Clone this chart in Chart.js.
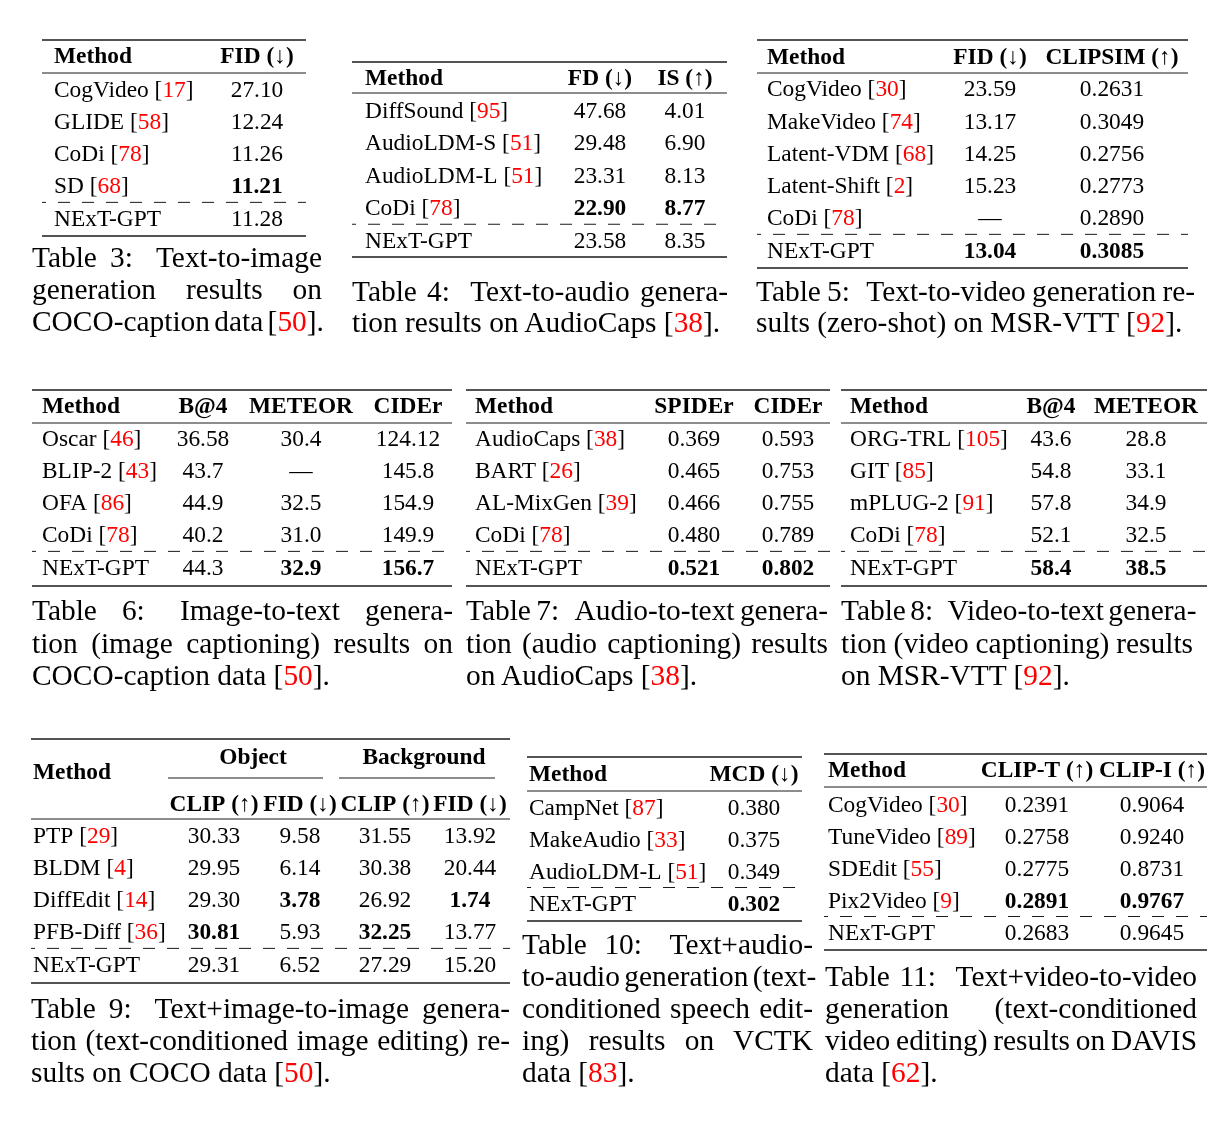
<!DOCTYPE html>
<html><head><meta charset="utf-8">
<script src="https://cdn.jsdelivr.net/npm/chart.js@4.4.1/dist/chart.umd.min.js"></script>
<style>
html,body{margin:0;padding:0;background:#fff;}
#page{position:relative;width:1227px;height:1139px;overflow:hidden;background:#fff;}
#page canvas{position:absolute;left:0;top:0;pointer-events:none;}
.cap{position:absolute;font-family:"Liberation Serif","Times New Roman",serif;font-size:29.4px;line-height:32px;white-space:nowrap;color:#000;}
.cap.j{text-align:justify;text-align-last:justify;word-spacing:-3px;}
.ref{color:#f00;}
.gap{display:inline-block;width:10px;}
</style></head><body><div id="page"></div>
<script>
// ================= DATA =================
// Table 3: Text-to-image
const t3Methods = ["CogVideo", "GLIDE", "CoDi", "SD", "NExT-GPT"];
const t3Refs    = ["17", "58", "78", "68", ""];
const t3Headers = ["FID (↓)"];
const t3FID     = ["27.10", "12.24", "11.26", "11.21", "11.28"];
const t3FIDBest = [3];

// Table 4: Text-to-audio
const t4Methods = ["DiffSound", "AudioLDM-S", "AudioLDM-L", "CoDi", "NExT-GPT"];
const t4Refs    = ["95", "51", "51", "78", ""];
const t4Headers = ["FD (↓)", "IS (↑)"];
const t4FD      = ["47.68", "29.48", "23.31", "22.90", "23.58"];
const t4FDBest  = [3];
const t4IS      = ["4.01", "6.90", "8.13", "8.77", "8.35"];
const t4ISBest  = [3];

// Table 5: Text-to-video
const t5Methods = ["CogVideo", "MakeVideo", "Latent-VDM", "Latent-Shift", "CoDi", "NExT-GPT"];
const t5Refs    = ["30", "74", "68", "2", "78", ""];
const t5Headers = ["FID (↓)", "CLIPSIM (↑)"];
const t5FID     = ["23.59", "13.17", "14.25", "15.23", "—", "13.04"];
const t5FIDBest = [5];
const t5CLIPSIM = ["0.2631", "0.3049", "0.2756", "0.2773", "0.2890", "0.3085"];
const t5CLIPSIMBest = [5];

// Table 6: Image-to-text
const t6Methods = ["Oscar", "BLIP-2", "OFA", "CoDi", "NExT-GPT"];
const t6Refs    = ["46", "43", "86", "78", ""];
const t6Headers = ["B@4", "METEOR", "CIDEr"];
const t6B4      = ["36.58", "43.7", "44.9", "40.2", "44.3"];
const t6B4Best  = [];
const t6METEOR  = ["30.4", "—", "32.5", "31.0", "32.9"];
const t6METEORBest = [4];
const t6CIDEr   = ["124.12", "145.8", "154.9", "149.9", "156.7"];
const t6CIDErBest = [4];

// Table 7: Audio-to-text
const t7Methods = ["AudioCaps", "BART", "AL-MixGen", "CoDi", "NExT-GPT"];
const t7Refs    = ["38", "26", "39", "78", ""];
const t7Headers = ["SPIDEr", "CIDEr"];
const t7SPIDEr  = ["0.369", "0.465", "0.466", "0.480", "0.521"];
const t7SPIDErBest = [4];
const t7CIDEr   = ["0.593", "0.753", "0.755", "0.789", "0.802"];
const t7CIDErBest = [4];

// Table 8: Video-to-text
const t8Methods = ["ORG-TRL", "GIT", "mPLUG-2", "CoDi", "NExT-GPT"];
const t8Refs    = ["105", "85", "91", "78", ""];
const t8Headers = ["B@4", "METEOR"];
const t8B4      = ["43.6", "54.8", "57.8", "52.1", "58.4"];
const t8B4Best  = [4];
const t8METEOR  = ["28.8", "33.1", "34.9", "32.5", "38.5"];
const t8METEORBest = [4];

// Table 9: Text+image-to-image
const t9Methods = ["PTP", "BLDM", "DiffEdit", "PFB-Diff", "NExT-GPT"];
const t9Refs    = ["29", "4", "14", "36", ""];
const t9Groups  = ["Object", "Background"];
const t9Headers = ["CLIP (↑)", "FID (↓)", "CLIP (↑)", "FID (↓)"];
const t9ObjCLIP = ["30.33", "29.95", "29.30", "30.81", "29.31"];
const t9ObjCLIPBest = [3];
const t9ObjFID  = ["9.58", "6.14", "3.78", "5.93", "6.52"];
const t9ObjFIDBest = [2];
const t9BgCLIP  = ["31.55", "30.38", "26.92", "32.25", "27.29"];
const t9BgCLIPBest = [3];
const t9BgFID   = ["13.92", "20.44", "1.74", "13.77", "15.20"];
const t9BgFIDBest = [2];

// Table 10: Text+audio-to-audio
const t10Methods = ["CampNet", "MakeAudio", "AudioLDM-L", "NExT-GPT"];
const t10Refs    = ["87", "33", "51", ""];
const t10Headers = ["MCD (↓)"];
const t10MCD     = ["0.380", "0.375", "0.349", "0.302"];
const t10MCDBest = [3];

// Table 11: Text+video-to-video
const t11Methods = ["CogVideo", "TuneVideo", "SDEdit", "Pix2Video", "NExT-GPT"];
const t11Refs    = ["30", "89", "55", "9", ""];
const t11Headers = ["CLIP-T (↑)", "CLIP-I (↑)"];
const t11CLIPT   = ["0.2391", "0.2758", "0.2775", "0.2891", "0.2683"];
const t11CLIPTBest = [3];
const t11CLIPI   = ["0.9064", "0.9240", "0.8731", "0.9767", "0.9645"];
const t11CLIPIBest = [3];

// Captions ({..} = red reference, "^" = wide gap after the label)
const cap3  = ["Table 3:^Text-to-image", "generation results on", "COCO-caption data [{50}]."];
const cap4  = ["Table 4:^Text-to-audio genera-", "tion results on AudioCaps [{38}]."];
const cap5  = ["Table 5:^Text-to-video generation re-", "sults (zero-shot) on MSR-VTT [{92}]."];
const cap6  = ["Table 6:^Image-to-text genera-", "tion (image captioning) results on", "COCO-caption data [{50}]."];
const cap7  = ["Table 7:^Audio-to-text genera-", "tion (audio captioning) results", "on AudioCaps [{38}]."];
const cap8  = ["Table 8:^Video-to-text genera-", "tion (video captioning) results", "on MSR-VTT [{92}]."];
const cap9  = ["Table 9:^Text+image-to-image genera-", "tion (text-conditioned image editing) re-", "sults on COCO data [{50}]."];
const cap10 = ["Table 10:^Text+audio-", "to-audio generation (text-", "conditioned speech edit-", "ing) results on VCTK", "data [{83}]."];
const cap11 = ["Table 11:^Text+video-to-video", "generation (text-conditioned", "video editing) results on DAVIS", "data [{62}]."];

// ================= LAYOUT =================
const W = 1227, H = 1139;
const FONT = '"Liberation Serif","Times New Roman",serif';
const FS = 23.4;
const BASE = 7.7;
const page = document.getElementById('page');

function col(header, values, best, x) { return {header, values, best, x}; }

const tables = [
  {methods: t3Methods, refs: t3Refs, methodX: 54, ruleX: [42, 306], top: 40, mid: 73, bottom: 236, headerY: 55,
   firstRow: 89, lastRow: 218,
   columns: [col(t3Headers[0], t3FID, t3FIDBest, 257)]},
  {methods: t4Methods, refs: t4Refs, methodX: 365, ruleX: [352, 727], top: 62, mid: 93, bottom: 257, headerY: 77,
   firstRow: 110, lastRow: 240,
   columns: [col(t4Headers[0], t4FD, t4FDBest, 600), col(t4Headers[1], t4IS, t4ISBest, 685)]},
  {methods: t5Methods, refs: t5Refs, methodX: 767, ruleX: [757, 1188], top: 40, mid: 73, bottom: 268, headerY: 56,
   firstRow: 88.5, lastRow: 250,
   columns: [col(t5Headers[0], t5FID, t5FIDBest, 990), col(t5Headers[1], t5CLIPSIM, t5CLIPSIMBest, 1112)]},
  {methods: t6Methods, refs: t6Refs, methodX: 42, ruleX: [32, 452], top: 390, mid: 423, bottom: 586, headerY: 405,
   firstRow: 438, lastRow: 567,
   columns: [col(t6Headers[0], t6B4, t6B4Best, 203), col(t6Headers[1], t6METEOR, t6METEORBest, 301), col(t6Headers[2], t6CIDEr, t6CIDErBest, 408)]},
  {methods: t7Methods, refs: t7Refs, methodX: 475, ruleX: [466, 830], top: 390, mid: 423, bottom: 586, headerY: 405,
   firstRow: 438, lastRow: 567,
   columns: [col(t7Headers[0], t7SPIDEr, t7SPIDErBest, 694), col(t7Headers[1], t7CIDEr, t7CIDErBest, 788)]},
  {methods: t8Methods, refs: t8Refs, methodX: 850, ruleX: [841, 1207], top: 390, mid: 423, bottom: 586, headerY: 405,
   firstRow: 438, lastRow: 567,
   columns: [col(t8Headers[0], t8B4, t8B4Best, 1051), col(t8Headers[1], t8METEOR, t8METEORBest, 1146)]},
  {methods: t9Methods, refs: t9Refs, methodX: 33, ruleX: [31, 510], top: 739, mid: 819, bottom: 983, headerY: 803,
   methodHeaderY: 771, firstRow: 835, lastRow: 964,
   groups: [{t: t9Groups[0], x: 253, y: 756, r: [168, 323], ry: 778}, {t: t9Groups[1], x: 424, y: 756, r: [339, 495], ry: 778}],
   columns: [col(t9Headers[0], t9ObjCLIP, t9ObjCLIPBest, 214), col(t9Headers[1], t9ObjFID, t9ObjFIDBest, 300),
             col(t9Headers[2], t9BgCLIP, t9BgCLIPBest, 385), col(t9Headers[3], t9BgFID, t9BgFIDBest, 470)]},
  {methods: t10Methods, refs: t10Refs, methodX: 529, ruleX: [527, 802], top: 757, mid: 791, bottom: 921, headerY: 773,
   firstRow: 807, lastRow: 903,
   columns: [col(t10Headers[0], t10MCD, t10MCDBest, 754)]},
  {methods: t11Methods, refs: t11Refs, methodX: 828, ruleX: [824, 1207], top: 754, mid: 787, bottom: 950, headerY: 769,
   firstRow: 804, lastRow: 932,
   columns: [col(t11Headers[0], t11CLIPT, t11CLIPTBest, 1037), col(t11Headers[1], t11CLIPI, t11CLIPIBest, 1152)]}
];

const captions = [
  {lines: cap3, x0: 32, x1: 322, y: [257, 289, 321], lastFull: true},
  {lines: cap4, x0: 352, x1: 728, y: [291, 322]},
  {lines: cap5, x0: 756, x1: 1195, y: [291, 322]},
  {lines: cap6, x0: 32, x1: 453, y: [610, 642.5, 675]},
  {lines: cap7, x0: 466, x1: 828, y: [610, 642.5, 675]},
  {lines: cap8, x0: 841, x1: 1193, y: [610, 642.5, 675]},
  {lines: cap9, x0: 31, x1: 510, y: [1008, 1040, 1072]},
  {lines: cap10, x0: 522, x1: 813, y: [944, 976, 1008, 1040, 1072]},
  {lines: cap11, x0: 825, x1: 1197, y: [976, 1008, 1040, 1072]}
];

// ================= DRAWING =================
function fontOf(s) { return (s.bold ? 'bold ' : '') + FS + 'px ' + FONT; }
function drawSegs(ctx, segs, x, y, align) {
  const widths = segs.map(s => { ctx.font = fontOf(s); return ctx.measureText(s.t).width; });
  const total = widths.reduce((a, b) => a + b, 0);
  let sx = align === 'center' ? x - total / 2 : x;
  ctx.textAlign = 'left';
  ctx.textBaseline = 'alphabetic';
  segs.forEach((s, i) => {
    ctx.font = fontOf(s);
    ctx.fillStyle = s.red ? '#f00' : '#000';
    ctx.fillText(s.t, sx, y);
    sx += widths[i];
  });
}
function headerSegs(str) {
  const out = [];
  str.split(/([↑↓])/).forEach(p => { if (p) out.push({t: p, bold: !/[↑↓]/.test(p)}); });
  return out;
}
function methodSegs(name, ref) {
  if (!ref) return [{t: name}];
  return [{t: name + ' ['}, {t: ref, red: true}, {t: ']'}];
}
function hline(ctx, x0, x1, y, lw, dash) {
  ctx.beginPath();
  ctx.lineWidth = lw;
  ctx.strokeStyle = '#1a1a1a';
  if (dash) { ctx.setLineDash([12, 12]); ctx.lineDashOffset = 8; } else ctx.setLineDash([]);
  ctx.moveTo(x0, y); ctx.lineTo(x1, y); ctx.stroke();
  ctx.setLineDash([]);
}

function drawTable(chart, spec) {
  const ctx = chart.ctx, xs = chart.scales.x, ys = chart.scales.y;
  const n = spec.methods.length;
  const X = v => xs.getPixelForValue(v);
  const rowY = i => ys.getPixelForValue(i);
  ctx.save();
  const x0 = X(spec.ruleX[0]), x1 = X(spec.ruleX[1]);
  hline(ctx, x0, x1, spec.top, 1.4);
  hline(ctx, x0, x1, spec.mid, 1.0);
  hline(ctx, x0, x1, spec.bottom, 1.4);
  hline(ctx, x0, x1, (rowY(n - 2) + rowY(n - 1)) / 2 + 0.5, 1.0, true);
  // headers
  drawSegs(ctx, [{t: 'Method', bold: true}], X(spec.methodX), (spec.methodHeaderY || spec.headerY) + BASE, 'left');
  (spec.groups || []).forEach(g => {
    drawSegs(ctx, [{t: g.t, bold: true}], X(g.x), g.y + BASE, 'center');
    hline(ctx, X(g.r[0]), X(g.r[1]), g.ry, 1.0);
  });
  spec.columns.forEach(c => drawSegs(ctx, headerSegs(c.header), X(c.x), spec.headerY + BASE, 'center'));
  // method names on the category scale
  spec.methods.forEach((m, i) => drawSegs(ctx, methodSegs(m, spec.refs[i]), X(spec.methodX), rowY(i) + BASE, 'left'));
  // values at the dataset points
  spec.columns.forEach((c, ci) => {
    const meta = chart.getDatasetMeta(ci);
    meta.data.forEach((el, i) => {
      drawSegs(ctx, [{t: c.values[i], bold: c.best.includes(i)}], el.x, el.y + BASE, 'center');
    });
  });
  ctx.restore();
}

function buildTable(spec) {
  const cv = document.createElement('canvas');
  cv.width = W; cv.height = H;
  cv.style.width = W + 'px'; cv.style.height = H + 'px';
  page.appendChild(cv);
  const n = spec.methods.length;
  const pitch = (spec.lastRow - spec.firstRow) / (n - 1);
  const padTop = spec.firstRow - pitch / 2;
  const padBottom = H - spec.lastRow - pitch / 2;
  const datasets = spec.columns.map(c => ({
    label: c.header,
    data: c.values.map((v, i) => ({x: c.x, y: spec.methods[i]})),
    pointRadius: 0, pointHoverRadius: 0, showLine: false
  }));
  new Chart(cv, {
    type: 'scatter',
    data: {datasets},
    options: {
      responsive: false, animation: false, events: [], devicePixelRatio: 1,
      layout: {padding: {top: padTop, bottom: padBottom, left: 0, right: 0}},
      plugins: {legend: {display: false}, tooltip: {enabled: false}},
      scales: {
        x: {type: 'linear', min: 0, max: W, display: false},
        y: {type: 'category', labels: spec.methods, offset: true, display: false}
      }
    },
    plugins: [{id: 'tableText', afterDatasetsDraw(chart) { drawTable(chart, spec); }}]
  });
}

function esc(s) { return s.replace(/&/g, '&amp;').replace(/</g, '&lt;'); }
function buildCaption(c) {
  c.lines.forEach((line, i) => {
    const d = document.createElement('div');
    const just = i < c.lines.length - 1 || c.lastFull;
    d.className = 'cap' + (just ? ' j' : '');
    d.style.left = c.x0 + 'px';
    d.style.width = (c.x1 - c.x0) + 'px';
    d.style.top = (c.y[i] - 16) + 'px';
    d.innerHTML = esc(line)
      .replace('^', ' <span class="gap"></span>')
      .replace(/\{([^}]*)\}/g, '<span class="ref">$1</span>');
    page.appendChild(d);
  });
}

tables.forEach(buildTable);
captions.forEach(buildCaption);
</script></body></html>
